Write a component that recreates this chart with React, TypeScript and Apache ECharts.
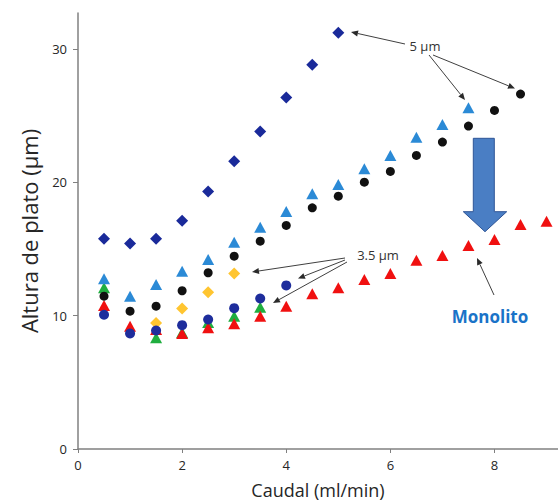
import React, { useEffect, useRef } from "react";
import * as echarts from "echarts";

// Flow rate values (ml/min) per series
const xNavyDiamond = [0.5, 1, 1.5, 2, 2.5, 3, 3.5, 4, 4.5, 5];
const yNavyDiamond = [15.77, 15.42, 15.77, 17.12, 19.32, 21.59, 23.82, 26.37, 28.82, 31.22];

const xBlueTriangle = [0.5, 1, 1.5, 2, 2.5, 3, 3.5, 4, 4.5, 5, 5.5, 6, 6.5, 7, 7.5];
const yBlueTriangle = [12.77, 11.46, 12.34, 13.34, 14.22, 15.51, 16.64, 17.82, 19.14, 19.84, 21.02, 22.02, 23.39, 24.34, 25.6];

const xBlackCircle = [0.5, 1, 1.5, 2, 2.5, 3, 3.5, 4, 4.5, 5, 5.5, 6, 6.5, 7, 7.5, 8, 8.5];
const yBlackCircle = [11.46, 10.34, 10.71, 11.87, 13.22, 14.46, 15.59, 16.77, 18.09, 18.96, 20.01, 20.82, 22.02, 23.02, 24.22, 25.39, 26.62];

const xYellowDiamond = [1.5, 2, 2.5, 3];
const yYellowDiamond = [9.45, 10.54, 11.76, 13.17];

const xNavyCircle = [0.5, 1, 1.5, 2, 2.5, 3, 3.5, 4];
const yNavyCircle = [10.07, 8.66, 8.89, 9.29, 9.71, 10.56, 11.29, 12.27];

const xGreenTriangle = [0.5, 1.5, 2, 2.5, 3, 3.5];
const yGreenTriangle = [12.09, 8.34, 8.74, 9.49, 9.96, 10.64];

const xRedTriangle = [0.5, 1, 1.5, 2, 2.5, 3, 3.5, 4, 4.5, 5, 5.5, 6, 6.5, 7, 7.5, 8, 8.5, 9];
const yRedTriangle = [10.77, 9.21, 8.96, 8.66, 9.09, 9.39, 9.96, 10.71, 11.64, 12.09, 12.72, 13.17, 14.16, 14.52, 15.27, 15.72, 16.84, 17.09];

const xTicks = [0, 2, 4, 6, 8];
const yTicks = [0, 10, 20, 30];

const FONT = "'Open Sans', 'Noto Sans', sans-serif";

function pairs(xs: number[], ys: number[]) {
  return xs.map((x, i) => [x, ys[i]]);
}

function arrow(x1: number, y1: number, x2: number, y2: number) {
  const dx = x2 - x1;
  const dy = y2 - y1;
  const L = Math.hypot(dx, dy);
  const ux = dx / L;
  const uy = dy / L;
  const h = 7;
  const w = 3;
  const bx = x2 - ux * h;
  const by = y2 - uy * h;
  return [
    {
      type: "line",
      z: 100,
      shape: { x1, y1, x2: bx, y2: by },
      style: { stroke: "#404040", lineWidth: 1 },
    },
    {
      type: "polygon",
      z: 100,
      shape: {
        points: [
          [x2, y2],
          [bx - uy * w, by + ux * w],
          [bx + uy * w, by - ux * w],
        ],
      },
      style: { fill: "#2a2a2a" },
    },
  ];
}

export default function App() {
  const ref = useRef<HTMLDivElement>(null);

  useEffect(() => {
    if (!ref.current) return;
    const chart = echarts.init(ref.current, null, { renderer: "svg" });

    const scatter = (
      name: string,
      xs: number[],
      ys: number[],
      symbol: string,
      size: any,
      color: string,
      z: number
    ) => ({
      name,
      type: "scatter",
      data: pairs(xs, ys),
      symbol,
      symbolSize: size,
      itemStyle: { color, opacity: 1 },
      z,
    });

    chart.setOption({
      animation: false,
      backgroundColor: "#ffffff",
      grid: { left: 78, right: 0, top: 13, bottom: 54 },
      xAxis: {
        type: "value",
        min: 0,
        max: 9.22,
        interval: 2,
        name: "Caudal (ml/min)",
        nameLocation: "middle",
        nameGap: 32,
        nameTextStyle: { fontFamily: FONT, fontSize: 18, color: "#262626" },
        axisLine: { show: true, lineStyle: { color: "#808080", width: 1.5 } },
        axisTick: { show: true, length: 4, lineStyle: { color: "#808080" } },
        axisLabel: {
          fontFamily: FONT,
          fontSize: 13,
          color: "#262626",
          margin: 9,
          showMaxLabel: false,
          formatter: (v: number) => (xTicks.includes(v) ? String(v) : ""),
        },
        splitLine: { show: false },
      },
      yAxis: {
        type: "value",
        min: 0,
        max: 32.7,
        interval: 10,
        name: "Altura de plato (µm)",
        nameLocation: "middle",
        nameGap: 38,
        nameTextStyle: { fontFamily: FONT, fontSize: 22, color: "#262626" },
        axisLine: { show: true, lineStyle: { color: "#808080", width: 1.5 } },
        axisTick: { show: true, length: 5, lineStyle: { color: "#808080" } },
        axisLabel: {
          fontFamily: FONT,
          fontSize: 13,
          color: "#262626",
          margin: 11,
          showMaxLabel: false,
          formatter: (v: number) => (yTicks.includes(v) ? String(v) : ""),
        },
        splitLine: { show: false },
      },
      series: [
        scatter("green", xGreenTriangle, yGreenTriangle, "triangle", [12, 11], "#1fae3f", 2),
        scatter("red", xRedTriangle, yRedTriangle, "triangle", [12, 11], "#f01010", 3),
        scatter("lightblue", xBlueTriangle, yBlueTriangle, "triangle", [12, 11], "#2b8ad6", 4),
        scatter("yellow", xYellowDiamond, yYellowDiamond, "diamond", 12, "#ffc530", 5),
        scatter("black", xBlackCircle, yBlackCircle, "circle", 9, "#111111", 6),
        scatter("navycircle", xNavyCircle, yNavyCircle, "circle", 10, "#1e2d9c", 7),
        scatter("navydiamond", xNavyDiamond, yNavyDiamond, "diamond", 12, "#1a2a9a", 8),
      ],
      graphic: [
        {
          type: "polygon",
          z: 90,
          shape: {
            points: [
              [473.3, 138.3],
              [494.3, 138.3],
              [494.3, 211.7],
              [506.7, 211.7],
              [485, 231.7],
              [463.3, 211.7],
              [473.3, 211.7],
            ],
          },
          style: { fill: "#4a7ec4", stroke: "#2f5597", lineWidth: 1 },
        },
        {
          type: "text",
          z: 100,
          x: 425,
          y: 46,
          style: {
            text: "5 µm",
            fontFamily: FONT,
            fontSize: 13,
            fill: "#333333",
            align: "center",
            verticalAlign: "middle",
          },
        },
        ...arrow(405, 44, 351, 32),
        ...arrow(429, 55, 465, 100),
        ...arrow(433, 55, 515, 88.5),
        {
          type: "text",
          z: 100,
          x: 378,
          y: 255,
          style: {
            text: "3.5 µm",
            fontFamily: FONT,
            fontSize: 13,
            fill: "#333333",
            align: "center",
            verticalAlign: "middle",
          },
        },
        ...arrow(345, 258, 252, 272),
        ...arrow(345, 260, 298, 278.5),
        ...arrow(347, 262, 273, 303),
        {
          type: "text",
          z: 100,
          x: 490,
          y: 316,
          style: {
            text: "Monolito",
            fontFamily: FONT,
            fontSize: 17,
            fontWeight: "bold",
            fill: "#1a73c8",
            align: "center",
            verticalAlign: "middle",
          },
        },
        ...arrow(494, 295, 477, 258),
      ],
    });

    return () => chart.dispose();
  }, []);

  return (
    <div
      ref={ref}
      style={{ position: "fixed", left: 0, top: 0, width: 558, height: 504 }}
    />
  );
}
